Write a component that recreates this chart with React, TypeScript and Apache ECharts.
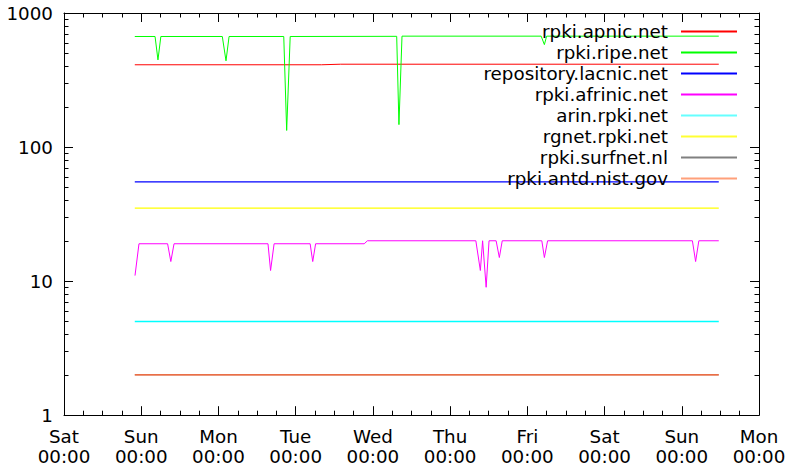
import { useEffect, useRef } from 'react';
import * as echarts from 'echarts';

// Time axis: hours since Saturday 00:00
const dayLabels = ['Sat', 'Sun', 'Mon', 'Tue', 'Wed', 'Thu', 'Fri', 'Sat', 'Sun', 'Mon'];
const timeLabel = '00:00';
const yTickLabels = ['1', '10', '100', '1000'];
const minorTickValues = [2, 3, 4, 5, 6, 7, 8, 9, 20, 30, 40, 50, 60, 70, 80, 90, 200, 300, 400, 500, 600, 700, 800, 900];

const seriesNames = [
  'rpki.apnic.net',
  'rpki.ripe.net',
  'repository.lacnic.net',
  'rpki.afrinic.net',
  'arin.rpki.net',
  'rgnet.rpki.net',
  'rpki.surfnet.nl',
  'rpki.antd.nist.gov',
];
const seriesColors = ['#ff0000', '#00ff00', '#0000ff', '#ff00ff', '#00ffff', '#ffff00', '#808080', '#ff5a24'];
const legendColors = ['#ff0000', '#00ff00', '#0000ff', '#ff00ff', '#66ffff', '#ffff33', '#808080', '#ffa07a'];

const apnicHours = [22, 80, 86, 203.5];
const apnicValues = [411, 411, 415, 415];

const ripeHours = [22, 28.3, 29.2, 30.1, 49.2, 50.35, 51.3, 68.3, 69.2, 70.3, 103.4, 104.1, 105.05, 148.3, 149.3, 150.0, 203.5];
const ripeValues = [668, 668, 447, 668, 668, 440, 668, 668, 133, 668, 670, 147, 672, 672, 581, 672, 672];

const lacnicHours = [22, 203.5];
const lacnicValues = [55, 55];

const afrinicHours = [22.07, 23.3, 32.2, 33.2, 34.2, 63.4, 64.2, 65.3, 76.5, 77.3, 78.2, 93.3, 94.3, 128.0, 129.4, 130.1, 131.2, 132.1, 134.3, 135.3, 136.2, 148.5, 149.3, 150.3, 195.3, 196.3, 197.3, 203.5];
const afrinicValues = [11, 19, 19, 14, 19, 19, 12, 19, 19, 14, 19, 19, 20, 20, 12, 20, 9, 20, 20, 15, 20, 20, 15, 20, 20, 14, 20, 20];

const arinHours = [22, 203.5];
const arinValues = [5, 5];

const rgnetHours = [22, 203.5];
const rgnetValues = [35, 35];

const surfnetHours = [22, 203.5];
const surfnetValues = [2, 2];

const nistHours = [22, 203.5];
const nistValues = [2, 2];

const allHours = [apnicHours, ripeHours, lacnicHours, afrinicHours, arinHours, rgnetHours, surfnetHours, nistHours];
const allValues = [apnicValues, ripeValues, lacnicValues, afrinicValues, arinValues, rgnetValues, surfnetValues, nistValues];
const lineWidths = [1, 1, 1.2, 1, 1.6, 1.3, 1, 1.2];

const X_MIN = 0;
const X_MAX = 216;
const FONT = 'DejaVu Sans';
const FS = 18.3;

export default function App() {
  const ref = useRef<HTMLDivElement>(null);
  useEffect(() => {
    if (!ref.current) return;
    const chart = echarts.init(ref.current, null, { renderer: 'svg' });
    const lineSeries = seriesNames.map((name, i) => ({
      type: 'line',
      name,
      data: allHours[i].map((h, j) => [h, allValues[i][j]]),
      showSymbol: false,
      symbol: 'none',
      color: seriesColors[i],
      lineStyle: { color: seriesColors[i], width: lineWidths[i] },
      emphasis: { disabled: true },
      silent: true,
    }));
    const axisLineStyle = { color: '#000', width: 1 };
    const xAxisCommon = {
      type: 'value',
      min: X_MIN,
      max: X_MAX,
      interval: 24,
      axisLine: { show: true, onZero: false, lineStyle: axisLineStyle },
      axisTick: { show: true, inside: true, length: 9, lineStyle: axisLineStyle },
      minorTick: { show: true, splitNumber: 4, length: 4.5, lineStyle: axisLineStyle },
      splitLine: { show: false },
    };
    const yAxisCommon = {
      type: 'log',
      logBase: 10,
      min: 1,
      max: 1000,
      axisLine: { show: true, onZero: false, lineStyle: axisLineStyle },
      axisTick: { show: true, inside: true, length: 9, lineStyle: axisLineStyle },
      splitLine: { show: false },
    };
    chart.setOption({
      animation: false,
      backgroundColor: '#ffffff',
      textStyle: { fontFamily: FONT },
      grid: { left: 64, right: 33, top: 13, bottom: 50, containLabel: false },
      xAxis: [
        {
          ...xAxisCommon,
          position: 'bottom',
          axisLabel: {
            show: true,
            showMinLabel: true,
            showMaxLabel: true,
            margin: 12,
            color: '#000',
            fontFamily: FONT,
            fontSize: FS,
            lineHeight: 19.4,
            formatter: (v: number) => `${dayLabels[Math.round(v / 24)]}\n${timeLabel}`,
          },
        },
        { ...xAxisCommon, position: 'top', axisLabel: { show: false } },
      ],
      yAxis: [
        {
          ...yAxisCommon,
          position: 'left',
          axisLabel: {
            show: true,
            margin: 11,
            color: '#000',
            fontFamily: FONT,
            fontSize: FS,
            formatter: (v: number) => yTickLabels[Math.round(Math.log10(v))] ?? String(v),
          },
        },
        { ...yAxisCommon, position: 'right', axisLabel: { show: false } },
      ],
      legend: {
        data: seriesNames.map((name, i) => ({ name, itemStyle: { color: legendColors[i] } })),
        orient: 'vertical',
        align: 'right',
        right: 55,
        top: 21,
        padding: 0,
        itemGap: 0,
        itemWidth: 56,
        itemHeight: 2,
        icon: 'rect',
        selectedMode: false,
        textStyle: { fontFamily: FONT, fontSize: FS, color: '#000', lineHeight: 21, padding: [0, 8, 0, 0] },
      },
      series: [
        ...lineSeries,
        {
          type: 'custom',
          name: 'minor ticks',
          silent: true,
          clip: false,
          xAxisIndex: 0,
          yAxisIndex: 0,
          data: minorTickValues.map((v) => [X_MIN, v]),
          renderItem: (_params: any, api: any) => {
            const v = api.value(1);
            const l = api.coord([X_MIN, v]);
            const r = api.coord([X_MAX, v]);
            const y = Math.round(l[1]) + 0.5;
            const st = { stroke: '#000', lineWidth: 1 };
            return {
              type: 'group',
              children: [
                { type: 'line', shape: { x1: l[0], y1: y, x2: l[0] + 4.5, y2: y }, style: st },
                { type: 'line', shape: { x1: r[0] - 4.5, y1: y, x2: r[0], y2: y }, style: st },
              ],
            };
          },
        },
      ],
    });
    return () => chart.dispose();
  }, []);
  return (
    <div
      ref={ref}
      style={{ position: 'fixed', left: 0, top: 0, width: 792, height: 466, background: '#fff' }}
    />
  );
}
